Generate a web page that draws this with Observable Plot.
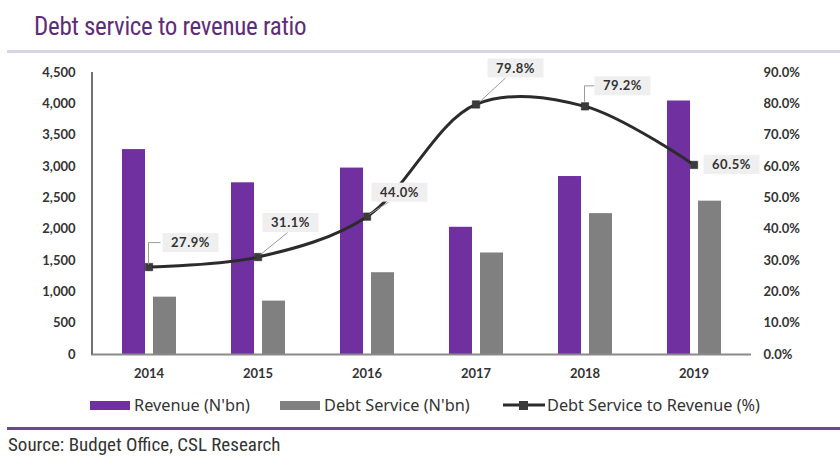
<!DOCTYPE html>
<html>
<head>
<meta charset="utf-8">
<script src="https://cdn.jsdelivr.net/npm/d3@7"></script>
<script src="https://cdn.jsdelivr.net/npm/@observablehq/plot@0.6"></script>
<style>
  html, body { margin: 0; padding: 0; background: #fff; }
  #page { position: relative; width: 840px; height: 472px; overflow: hidden; background: #fff; }
  #title {
    position: absolute; left: 34px; top: 12px;
    font-family: "Liberation Sans Narrow", "Roboto Condensed", "Open Sans", sans-serif;
    font-size: 25px; color: #5e2d79; letter-spacing: -0.3px;
  }
  #rule-top { position: absolute; left: 7px; right: 0; top: 50px; height: 3px; background: #d9d2e2; }
  #chart { position: absolute; left: 0; top: 50px; }
  #legend {
    position: absolute; left: 0; top: 394px; width: 840px; height: 22px;
    font-family: "Noto Sans", "Open Sans", sans-serif; font-size: 16.3px; color: #333;
  }
  #legend .item { position: absolute; top: 0; display: flex; align-items: center; height: 22px; }
  #legend .sw { width: 40px; height: 9px; margin-right: 4px; }
  #rule-bottom { position: absolute; left: 7px; right: 0; top: 427px; height: 3px; background: #6a4a86; }
  #source {
    position: absolute; left: 8px; top: 433px;
    font-family: "Liberation Sans Narrow", "Roboto Condensed", "Open Sans", sans-serif;
    font-size: 19px; color: #333;
  }
</style>
</head>
<body>
<div id="page">
  <div id="title">Debt service to revenue ratio</div>
  <div id="rule-top"></div>
  <div id="chart"></div>
  <div id="legend"></div>
  <div id="rule-bottom"></div>
  <div id="source">Source: Budget Office, CSL Research</div>
</div>
<script>
// Fiscal years
const years = ["2014", "2015", "2016", "2017", "2018", "2019"];
// Federal revenue, N'bn
const revenue = [3270, 2740, 2975, 2030, 2840, 4045];
// Debt service, N'bn
const debtService = [915, 852, 1305, 1620, 2248, 2447];
// Debt service to revenue, %
const ratio = [27.9, 31.1, 44.0, 79.8, 79.2, 60.5];
// Axis ticks
const leftTicks = [0, 500, 1000, 1500, 2000, 2500, 3000, 3500, 4000, 4500];
const rightTicks = [0, 10, 20, 30, 40, 50, 60, 70, 80, 90];

// The percentage axis shares the pixel range of the N'bn axis: 90% ↔ 4,500
const pctToY = 4500 / 90;

const rows = years.map((year, i) => ({
  year, revenue: revenue[i], debt: debtService[i], ratio: ratio[i]
}));

const colors = { revenue: "#7030a0", debt: "#808080", line: "#2b2b2b", marker: "#3a3a3a" };
const tickFont = "Lato, 'DejaVu Sans', sans-serif";

const W = 840, H = 335;
const chart = Plot.plot({
  width: W, height: H,
  marginLeft: 91, marginRight: 90, marginTop: 22, marginBottom: 31,
  style: { fontFamily: tickFont, fontSize: "13px", color: "#333", background: "transparent", overflow: "visible" },
  x: { domain: years, padding: 0, label: null },
  y: { domain: [0, 4500], label: null },
  marks: [
    // Revenue and debt service bars sit side by side inside each year's band
    Plot.barY(rows, { x: "year", y: "revenue", fill: colors.revenue, insetLeft: 28, insetRight: 58 }),
    Plot.barY(rows, { x: "year", y: "debt", fill: colors.debt, insetLeft: 59, insetRight: 27 }),
    Plot.axisY(leftTicks, {
      anchor: "left", tickSize: 0, tickPadding: 16, label: null,
      tickFormat: d => d3.format(",")(d), fontWeight: "bold", fill: "#333"
    }),
    Plot.axisY(rightTicks.map(p => p * pctToY), {
      anchor: "right", tickSize: 0, tickPadding: 13, label: null,
      tickFormat: d => (d / pctToY).toFixed(1) + "%", fontWeight: "bold", fill: "#333"
    }),
    Plot.axisX({ tickSize: 0, tickPadding: 14, label: null, fontWeight: "bold", fill: "#333" }),
    Plot.ruleY([0], { stroke: "#8a8a8a", strokeWidth: 2, insetRight: -1 }),
    // Smoothed ratio line with square markers
    Plot.line(rows, { x: "year", y: d => d.ratio * pctToY, curve: "catmull-rom", stroke: colors.line, strokeWidth: 3 }),
    Plot.dot(rows, { x: "year", y: d => d.ratio * pctToY, symbol: "square", r: 4.2, fill: colors.marker, stroke: "#222", strokeWidth: 0.5 })
  ]
});
document.getElementById("chart").appendChild(chart);

const sx = chart.scale("x"), sy = chart.scale("y");
const svg = d3.select(chart);

// Left axis line along the start of the band range
svg.append("line")
  .attr("x1", sx.range[0] + 1).attr("x2", sx.range[0] + 1)
  .attr("y1", sy.apply(4500)).attr("y2", sy.apply(0))
  .attr("stroke", "#444").attr("stroke-width", 1.5);

// Value callouts: grey boxes joined to their markers by thin leaders.
// Each entry gives the label centre relative to the marker and an optional elbow.
const callouts = [
  { dx: 42, dy: -24, leader: [[0, -2], [0, -24], [12, -24]] },
  { dx: 33, dy: -34, leader: [[3, -2], [30, -24]] },
  { dx: 33, dy: -24, leader: [[3, -2], [22, -14]] },
  { dx: 40, dy: -36, leader: [[4, -2], [30, -26]] },
  { dx: 38, dy: -20, leader: [[0, -4], [0, -20], [10, -20]] },
  { dx: 38, dy: 0, leader: null }
];
const g = svg.append("g").attr("font-family", tickFont).attr("font-size", 13).attr("font-weight", "bold");
rows.forEach((d, i) => {
  const cx = sx.apply(d.year) + sx.bandwidth / 2;
  const cy = sy.apply(d.ratio * pctToY);
  const c = callouts[i];
  const label = d.ratio.toFixed(1) + "%";
  if (c.leader) {
    g.append("path")
      .attr("d", d3.line()(c.leader.map(([a, b]) => [cx + a, cy + b])))
      .attr("fill", "none").attr("stroke", "#9a9a9a").attr("stroke-width", 1);
  }
  const bw = 56, bh = 19;
  g.append("rect")
    .attr("x", cx + c.dx - bw / 2).attr("y", cy + c.dy - bh / 2)
    .attr("width", bw).attr("height", bh).attr("fill", "#efefef");
  g.append("text")
    .attr("x", cx + c.dx).attr("y", cy + c.dy)
    .attr("text-anchor", "middle").attr("dy", "0.35em")
    .attr("fill", "#333").attr("letter-spacing", "0.5px")
    .text(label);
});

// Legend
const legend = document.getElementById("legend");
const items = [
  { x: 90, label: "Revenue (N'bn)", kind: "bar", color: colors.revenue },
  { x: 280, label: "Debt Service (N'bn)", kind: "bar", color: colors.debt },
  { x: 503, label: "Debt Service to Revenue (%)", kind: "line", color: colors.line }
];
items.forEach(it => {
  const div = document.createElement("div");
  div.className = "item";
  div.style.left = it.x + "px";
  if (it.kind === "bar") {
    div.innerHTML = `<span class="sw" style="background:${it.color}"></span><span>${it.label}</span>`;
  } else {
    div.innerHTML = `<svg width="42" height="12" style="margin-right:2px"><line x1="0" x2="42" y1="6" y2="6" stroke="${it.color}" stroke-width="3"/><rect x="16" y="2" width="9" height="9" fill="${colors.marker}"/></svg><span>${it.label}</span>`;
  }
  legend.appendChild(div);
});
</script>
</body>
</html>
